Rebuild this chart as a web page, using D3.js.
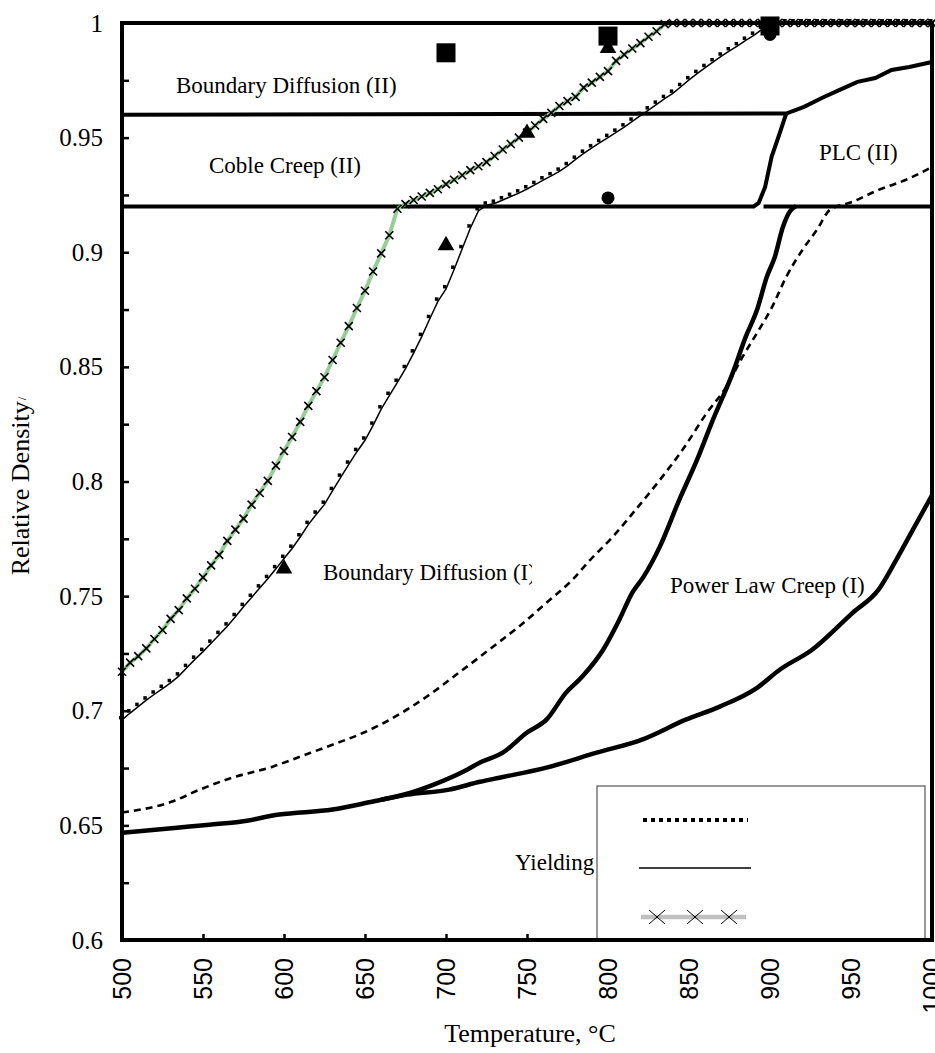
<!DOCTYPE html>
<html>
<head>
<meta charset="utf-8">
<script src="https://cdn.jsdelivr.net/npm/d3@7"></script>
<style>
  body { margin: 0; background: #fff; }
  svg text { font-family: "Liberation Serif", "Times New Roman", serif; fill: #000; }
</style>
</head>
<body>
<div id="chart"></div>
<script>
// ---- data ----
var xTicks = [500, 550, 600, 650, 700, 750, 800, 850, 900, 950, 1000];
var xTickLabels = ["500", "550", "600", "650", "700", "750", "800", "850", "900", "950", "1000"];
var yTicks = [0.6, 0.625, 0.65, 0.675, 0.7, 0.725, 0.75, 0.775, 0.8, 0.825, 0.85, 0.875, 0.9, 0.925, 0.95, 0.975, 1];
var yTickLabels = ["0.6", "", "0.65", "", "0.7", "", "0.75", "", "0.8", "", "0.85", "", "0.9", "", "0.95", "", "1"];

// temperature grid of the two marker series (every 5 C)
var tempStep = d3.range(500, 1001, 5);

// grey/green line with x markers
var greenDensity = [
  0.717, 0.721, 0.7238, 0.7272, 0.7313, 0.7352, 0.7401, 0.7439, 0.749, 0.7532,
  0.7582, 0.7634, 0.768, 0.7741, 0.779, 0.7838, 0.7899, 0.795, 0.8003, 0.8069,
  0.8133, 0.8194, 0.826, 0.833, 0.8394, 0.8455, 0.853, 0.8605, 0.8678, 0.8757,
  0.8832, 0.8916, 0.8995, 0.9074, 0.919, 0.921, 0.9228, 0.9243, 0.9259, 0.9275,
  0.9297, 0.9316, 0.9336, 0.9358, 0.9375, 0.9393, 0.942, 0.9448, 0.9472, 0.95,
  0.9522, 0.9553, 0.9582, 0.9608, 0.9638, 0.9659, 0.9678, 0.9718, 0.974, 0.9765,
  0.979, 0.9835, 0.9862, 0.9889, 0.9912, 0.994, 0.9964, 0.9995,
  1, 1, 1, 1, 1, 1, 1, 1, 1, 1, 1, 1, 1, 1, 1, 1, 1, 1, 1, 1, 1, 1, 1, 1, 1, 1, 1, 1, 1, 1, 1, 1, 1
];

// thin solid line with small square markers
var thinDensity = [
  0.696, 0.699, 0.7018, 0.7046, 0.7072, 0.7097, 0.7122, 0.7151, 0.7188, 0.7224,
  0.7258, 0.7294, 0.7332, 0.7369, 0.741, 0.7454, 0.7494, 0.7535, 0.7576, 0.7619,
  0.7664, 0.7708, 0.7758, 0.7812, 0.7857, 0.79, 0.796, 0.8018, 0.8075, 0.813,
  0.818, 0.8245, 0.8316, 0.8375, 0.8432, 0.8492, 0.856, 0.8632, 0.871, 0.8786,
  0.884, 0.8925, 0.9015, 0.9105, 0.918, 0.9205, 0.9213, 0.9228, 0.9243, 0.9258,
  0.9276, 0.9295, 0.9315, 0.9333, 0.9353, 0.9377, 0.9405, 0.9431, 0.9455, 0.9478,
  0.95, 0.9523, 0.9546, 0.9571, 0.9596, 0.962, 0.9645, 0.967, 0.9693, 0.9722,
  0.9752, 0.9779, 0.9805, 0.983, 0.9855, 0.9878, 0.99, 0.9924, 0.9946, 0.9972, 1,
  1, 1, 1, 1, 1, 1, 1, 1, 1, 1, 1, 1, 1, 1, 1, 1, 1, 1, 1, 1
];

// dashed line
var dashTemp = [500, 531, 548, 568, 593, 610, 630, 649, 663, 688, 708, 733, 745, 762, 778, 789, 803, 818, 832, 846, 861, 873, 883, 892, 901, 910, 920, 929, 937, 951, 967, 984, 1000];
var dashDensity = [0.6556, 0.6604, 0.6656, 0.6708, 0.6756, 0.68, 0.6852, 0.6904, 0.6952, 0.7061, 0.7166, 0.7301, 0.7367, 0.7471, 0.7571, 0.7658, 0.7759, 0.7885, 0.8007, 0.8138, 0.8299, 0.8413, 0.8543, 0.8648, 0.8757, 0.8892, 0.901, 0.9098, 0.9185, 0.922, 0.9272, 0.9316, 0.9372];

// lower thick line (yielding boundary)
var yieldTemp = [500, 534, 554, 573, 597, 630, 655, 676, 702, 721, 733, 762, 793, 821, 848, 869, 892, 906, 926, 951, 967, 978, 989, 1000];
var yieldDensity = [0.6468, 0.649, 0.6503, 0.6516, 0.6547, 0.6569, 0.6604, 0.6634, 0.6656, 0.669, 0.6708, 0.6752, 0.6817, 0.6874, 0.6961, 0.7018, 0.71, 0.7179, 0.7266, 0.7427, 0.7528, 0.7659, 0.78, 0.794];

// steep thick line (power law creep boundary)
var plcTemp = [660, 676, 692, 713, 721, 735, 750, 762, 774, 784, 797, 807, 815, 822, 832, 844, 855, 864, 877, 885, 892, 898, 903, 908, 913, 916];
var plcDensity = [0.6612, 0.6638, 0.6677, 0.6743, 0.6774, 0.6817, 0.6905, 0.6961, 0.7078, 0.7148, 0.7266, 0.7397, 0.7515, 0.7585, 0.7716, 0.792, 0.8095, 0.8256, 0.8474, 0.8631, 0.8749, 0.8892, 0.898, 0.9111, 0.9185, 0.92];

// region boundaries
var line96Temp = [500, 910, 921, 932, 943, 954, 965, 975, 986, 1000];
var line96Density = [0.96, 0.9605, 0.9634, 0.9673, 0.9708, 0.9743, 0.976, 0.9795, 0.9808, 0.983];
var line92aTemp = [500, 890, 893, 897, 901, 906, 910];
var line92aDensity = [0.92, 0.92, 0.9215, 0.9285, 0.9416, 0.952, 0.9605];
var line92bTemp = [896, 1000];
var line92bDensity = [0.92, 0.92];

// experimental points
var triTemp = [600, 700, 750, 800];
var triDensity = [0.762, 0.903, 0.952, 0.989];
var circTemp = [800, 900];
var circDensity = [0.9237, 0.995];
var sqTemp = [700, 800, 900];
var sqDensity = [0.987, 0.9943, 0.9987];

var regionLabels = ["Boundary Diffusion (II)", "Coble Creep (II)", "PLC (II)", "Boundary Diffusion (I)", "Power Law Creep (I)", "Yielding"];

// ---- drawing ----
var width = 935, height = 1053;

var x = d3.scaleLinear().domain([500, 1000]).range([122, 932]);
var y = d3.scaleLinear().domain([0.6, 1]).range([940, 23]);

var svg = d3.select("#chart").append("svg")
    .attr("width", width)
    .attr("height", height);

function zipPts(t, v) {
  return t.map(function (d, i) { return [d, v[i]]; });
}

var line = d3.line()
    .x(function (d) { return x(d[0]); })
    .y(function (d) { return y(d[1]); });
var smooth = d3.line()
    .curve(d3.curveMonotoneX)
    .x(function (d) { return x(d[0]); })
    .y(function (d) { return y(d[1]); });

// region labels
var labelPos = [[176, 93], [209, 173], [819, 160], [323, 580], [670, 593], [515, 870]];
svg.append("clipPath").attr("id", "bdClip")
  .append("rect").attr("x", 300).attr("y", 540).attr("width", 232).attr("height", 60);
svg.selectAll(".region").data(regionLabels).enter().append("text")
    .attr("class", "region")
    .attr("x", function (d, i) { return labelPos[i][0]; })
    .attr("y", function (d, i) { return labelPos[i][1]; })
    .attr("clip-path", function (d, i) { return i == 3 ? "url(#bdClip)" : null; })
    .style("font-size", "23px")
    .text(function (d) { return d; });

// boundaries
[[line96Temp, line96Density], [line92aTemp, line92aDensity], [line92bTemp, line92bDensity]].forEach(function (b) {
  svg.append("path")
      .datum(zipPts(b[0], b[1]))
      .attr("d", line)
      .attr("fill", "none")
      .attr("stroke", "#000")
      .attr("stroke-width", 4);
});

// dashed curve
svg.append("path")
    .datum(zipPts(dashTemp, dashDensity))
    .attr("d", smooth)
    .attr("fill", "none")
    .attr("stroke", "#000")
    .attr("stroke-width", 2.6)
    .attr("stroke-dasharray", "7,5");

// thick curves
[[yieldTemp, yieldDensity], [plcTemp, plcDensity]].forEach(function (b) {
  svg.append("path")
      .datum(zipPts(b[0], b[1]))
      .attr("d", smooth)
      .attr("fill", "none")
      .attr("stroke", "#000")
      .attr("stroke-width", 4.5)
      .attr("stroke-linejoin", "round");
});

// thin curve with small markers
var thinPts = zipPts(tempStep, thinDensity);
svg.append("path")
    .datum(thinPts)
    .attr("d", line)
    .attr("fill", "none")
    .attr("stroke", "#000")
    .attr("stroke-width", 1.5);
svg.selectAll(".thinMark").data(thinPts).enter().append("rect")
    .attr("class", "thinMark")
    .attr("x", function (d) { return x(d[0]) - 3; })
    .attr("y", function (d) { return y(d[1]) - 4; })
    .attr("width", 3.5)
    .attr("height", 3.5)
    .attr("fill", "#000");

// green curve with x markers
var greenPts = zipPts(tempStep, greenDensity);
svg.append("path")
    .datum(greenPts)
    .attr("d", line)
    .attr("fill", "none")
    .attr("stroke", "#98cc98")
    .attr("stroke-width", 4);
svg.selectAll(".xMark").data(greenPts).enter().append("path")
    .attr("class", "xMark")
    .attr("transform", function (d) { return "translate(" + x(d[0]) + "," + y(d[1]) + ")"; })
    .attr("d", "M-4,-4L4,4M-4,4L4,-4")
    .attr("stroke", "#000")
    .attr("stroke-width", 1.6);

// experimental symbols
svg.selectAll(".tri").data(zipPts(triTemp, triDensity)).enter().append("path")
    .attr("transform", function (d) { return "translate(" + x(d[0]) + "," + y(d[1]) + ")"; })
    .attr("d", d3.symbol(d3.symbolTriangle, 120))
    .attr("fill", "#000");
svg.selectAll(".circ").data(zipPts(circTemp, circDensity)).enter().append("circle")
    .attr("cx", function (d) { return x(d[0]); })
    .attr("cy", function (d) { return y(d[1]); })
    .attr("r", 6.5)
    .attr("fill", "#000");
svg.selectAll(".sq").data(zipPts(sqTemp, sqDensity)).enter().append("rect")
    .attr("x", function (d) { return x(d[0]) - 9.5; })
    .attr("y", function (d) { return y(d[1]) - 9.5; })
    .attr("width", 19)
    .attr("height", 19)
    .attr("fill", "#000");

// axes
var yAxis = svg.append("g")
    .attr("transform", "translate(" + x(500) + ",0)")
    .call(d3.axisLeft(y).tickValues(yTicks).tickSize(-7).tickSizeOuter(0).tickPadding(19)
      .tickFormat(function (d, i) { return yTickLabels[i]; }));
yAxis.select(".domain").remove();
yAxis.selectAll(".tick line").attr("stroke-width", 2.5);
yAxis.selectAll(".tick text")
    .style("font-family", "'Liberation Serif', serif")
    .style("font-size", "25px");

var xAxis = svg.append("g")
    .attr("transform", "translate(0," + y(0.6) + ")")
    .call(d3.axisBottom(x).tickValues(xTicks).tickSize(-6).tickSizeOuter(0)
      .tickFormat(function (d, i) { return xTickLabels[i]; }));
xAxis.select(".domain").remove();
xAxis.selectAll(".tick line").attr("stroke-width", 2.5);
xAxis.selectAll(".tick text")
    .attr("transform", "rotate(-90)")
    .attr("x", -18)
    .attr("y", 0)
    .attr("dy", "0.35em")
    .attr("text-anchor", "end")
    .style("font-family", "'Liberation Sans', Arial, sans-serif")
    .style("font-size", "25px");

svg.append("text")
    .attr("x", 530)
    .attr("y", 1042)
    .attr("text-anchor", "middle")
    .style("font-size", "26px")
    .text("Temperature, °C");

var yTitle = svg.append("text")
    .attr("transform", "translate(29,486) rotate(-90)")
    .attr("text-anchor", "middle")
    .style("font-size", "26px");
yTitle.append("tspan").text("Relative Density");
yTitle.append("tspan").attr("dx", 1).attr("dy", -3).style("font-size", "13px").text("/");

// legend (entries have no text in the original)
var legend = svg.append("g");
legend.append("rect")
    .attr("x", 597).attr("y", 786)
    .attr("width", 328).attr("height", 154)
    .attr("fill", "#fff")
    .attr("stroke", "#555")
    .attr("stroke-width", 1.2);
legend.append("line")
    .attr("x1", 643).attr("x2", 748).attr("y1", 820).attr("y2", 820)
    .attr("stroke", "#000").attr("stroke-width", 4).attr("stroke-dasharray", "4,4");
legend.append("line")
    .attr("x1", 639).attr("x2", 751).attr("y1", 868).attr("y2", 868)
    .attr("stroke", "#000").attr("stroke-width", 1.5);
legend.append("line")
    .attr("x1", 641).attr("x2", 746).attr("y1", 917).attr("y2", 917)
    .attr("stroke", "#c0c0c0").attr("stroke-width", 4.5);
[657, 695, 729].forEach(function (cx) {
  legend.append("path")
      .attr("transform", "translate(" + cx + ",917)")
      .attr("d", "M-8,-7L8,7M-8,7L8,-7")
      .attr("stroke", "#000")
      .attr("stroke-width", 1);
});

// plot frame
svg.append("rect")
    .attr("x", x(500)).attr("y", y(1))
    .attr("width", x(1000) - x(500))
    .attr("height", y(0.6) - y(1))
    .attr("fill", "none")
    .attr("stroke", "#000")
    .attr("stroke-width", 4);
</script>
</body>
</html>
